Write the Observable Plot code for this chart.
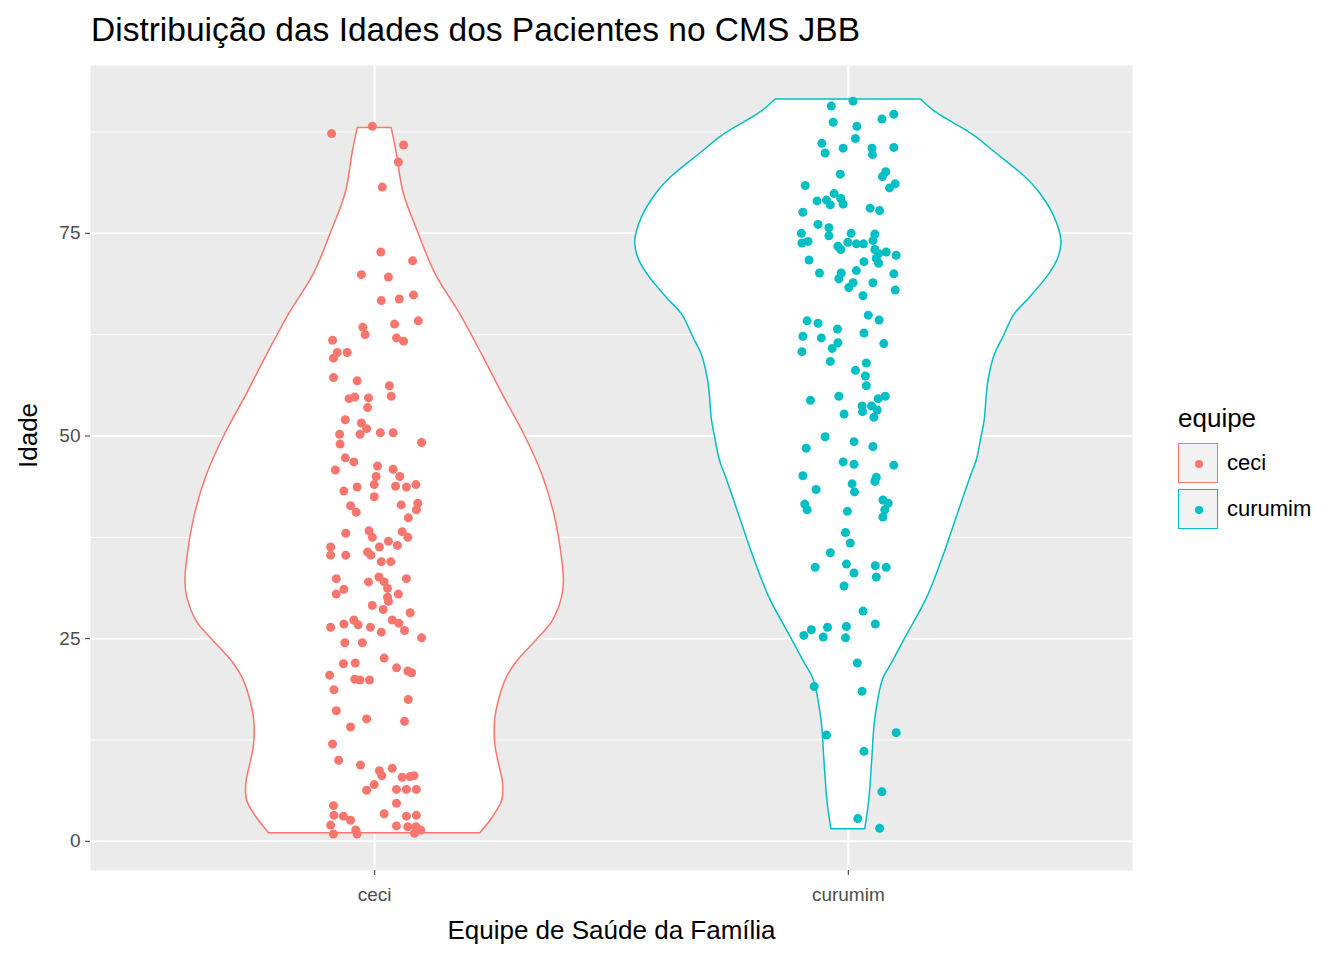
<!DOCTYPE html>
<html>
<head>
<meta charset="utf-8">
<script src="https://cdn.jsdelivr.net/npm/d3@7"></script>
<script src="https://cdn.jsdelivr.net/npm/@observablehq/plot@0.6"></script>
<style>
  body { margin: 0; background: white; font-family: "Liberation Sans", Arial, sans-serif; }
  #wrap { position: relative; width: 1344px; height: 960px; }
  #title { height: 50px; font-size: 33.5px; padding-left: 91px; line-height: 60px; color: #000; }
  #legend { position: absolute; left: 1178px; top: 403px; }
  .lt { font-size: 26px; margin-bottom: 6px; }
  .key { display: flex; align-items: center; height: 46px; font-size: 22px; }
  .box { width: 40px; height: 40px; background: #F2F2F2; box-sizing: border-box; border: 1.5px solid; position: relative; margin-right: 9px; }
  .box span { position: absolute; left: 16px; top: 16px; width: 8px; height: 8px; border-radius: 50%; }
</style>
</head>
<body>
<div id="wrap">
  <div id="title">Distribuição das Idades dos Pacientes no CMS JBB</div>
  <div id="chart"></div>
  <div id="legend">
    <div class="lt">equipe</div>
    <div class="key"><div class="box" style="border-color:#F8766D"><span style="background:#F8766D"></span></div>ceci</div>
    <div class="key"><div class="box" style="border-color:#00BFC4"><span style="background:#00BFC4"></span></div>curumim</div>
  </div>
</div>
<script>
const equipes = ["ceci", "curumim"];
const cores = ["#F8766D", "#00BFC4"];

// violin outline: age and relative density width
const violinCeciAge = [1, 3, 5, 7, 10, 12, 15, 17, 20, 22, 25, 27, 30, 32, 35, 40, 45, 50, 55, 60, 65, 70, 75, 80, 85, 88];
const violinCeciDens = [106, 119, 128, 129, 124, 121, 121, 124, 132, 142, 164, 178, 188, 190, 188, 181, 169, 151, 129, 108, 86, 61, 44, 29, 22, 17];
const violinCurAge = [1.5, 5, 10, 15, 20, 22, 25, 30, 35, 40, 45, 47, 50, 52, 55, 57, 60, 62, 65, 67, 70, 72, 74, 77, 80, 82, 85, 87, 90, 91.5];
const violinCurDens = [17, 21, 24, 27, 35, 44, 57, 79, 95, 109, 123, 129, 134, 137, 139, 141, 147, 155, 167, 182, 202, 211, 214, 207, 192, 177, 147, 127, 87, 73];

// jittered observations: age and horizontal jitter
const ceciIdade = [87.3,88.2,85.9,83.8,80.7,72.7,71.6,69.9,69.6,66.7,66.9,67.4,64.2,63.4,62.5,63.8,62.1,61.7,61.8,60.3,60.3,59.6,57.2,56.8,56.2,54.9,54.6,54.8,54.7,53.5,52.0,51.6,50.9,50.2,50.2,49.0,50.4,50.4,49.2,47.3,46.8,45.8,46.3,45.0,45.9,45.0,
43.7,43.2,44.0,43.8,43.7,44.0,42.5,41.4,40.6,41.5,41.7,40.9,39.9,38.0,38.3,37.5,38.2,37.5,37.0,36.3,36.5,36.3,35.3,35.3,35.7,35.3,34.5,34.5,32.4,32.0,32.6,32.4,31.1,30.5,32.0,31.2,30.5,30.1,29.6,29.1,28.6,28.2,26.4,26.8,27.3,26.7,26.4,25.8,27.3,26.9,26.0,25.1,24.5,24.5,22.6,21.9,22.0,21.4,21.0,20.8,20.5,20.0,19.9,19.9,18.7,17.5,16.1,15.1,14.8,14.1,12.0,10.0,9.4,8.7,8.1,9.0,7.9,8.0,8.1,7.0,6.3,6.4,6.4,6.4,4.7,4.4,3.2,3.1,2.6,3.4,3.1,3.2,2.0,1.4,1.9,1.8,1.8,1.4,0.9,0.9,1.0];
const ceciJit = [-0.091,-0.005,0.061,0.050,0.016,0.013,0.080,-0.028,0.029,0.014,0.052,0.082,0.092,-0.025,-0.020,0.042,0.046,0.061,-0.089,-0.079,-0.058,-0.087,-0.087,-0.037,0.031,0.035,-0.054,-0.042,-0.013,-0.015,-0.062,-0.028,-0.017,-0.031,-0.074,-0.073,0.012,0.039,0.099,-0.062,-0.044,-0.083,0.006,0.003,0.039,0.053,
-0.037,-0.065,-0.001,0.044,0.067,0.087,-0.001,-0.051,-0.039,0.056,0.091,0.088,0.071,-0.061,-0.012,-0.005,0.058,0.070,0.029,0.010,0.048,-0.093,-0.093,-0.061,-0.015,-0.008,0.014,0.034,-0.081,-0.013,0.009,0.067,-0.065,-0.081,0.020,0.027,0.050,0.027,0.029,-0.005,0.018,0.075,-0.093,-0.065,-0.044,-0.035,-0.009,0.014,0.037,0.051,0.063,0.099,-0.063,-0.026,0.020,-0.066,-0.041,0.046,0.070,0.078,-0.095,-0.042,-0.031,-0.011,-0.086,0.071,-0.081,-0.017,0.063,-0.051,-0.089,-0.076,-0.030,0.010,0.015,0.037,0.058,0.075,0.083,-0.001,-0.017,0.046,0.067,0.088,0.046,-0.087,-0.086,-0.066,-0.051,0.020,0.067,0.088,-0.093,-0.040,0.046,0.070,0.087,0.097,-0.087,-0.037,0.084];
const curIdade = [91.3,90.7,89.7,89.1,88.7,88.2,86.7,86.1,85.5,85.5,84.7,85.6,84.9,82.3,82.6,82.0,80.9,81.1,80.6,79.9,79.3,78.6,79.0,79.1,78.5,78.1,77.8,77.6,76.1,75.7,74.7,75.0,73.8,74.0,75.0,73.9,73.7,73.7,74.9,74.1,73.4,73.0,73.0,72.5,72.7,72.3,71.9,71.3,71.5,71.7,70.4,70.1,70.1,69.4,70.0,68.9,68.9,68.3,68.0,67.3,64.9,64.3,64.2,63.9,63.2,62.7,62.3,62.1,61.5,60.8,60.4,61.4,59.2,59.0,58.1,57.4,56.2,54.4,54.9,54.9,54.6,53.7,53.7,53.2,53.0,52.3,52.7,49.9,49.3,48.7,48.5,
46.8,46.5,46.4,45.1,44.1,43.1,44.9,44.4,43.4,42.1,41.7,40.9,40.0,41.6,40.9,40.7,38.1,36.8,35.6,33.8,34.2,33.1,34.0,33.8,32.6,31.5,28.4,26.8,26.1,25.4,26.4,25.2,26.5,25.1,22.0,19.1,18.5,13.1,13.4,11.1,6.1,2.8,1.6];
const curJit = [0.010,-0.036,0.096,0.071,-0.032,0.018,0.015,-0.056,-0.011,0.050,0.051,0.096,-0.049,-0.017,0.079,0.072,-0.091,0.099,0.087,-0.030,-0.016,-0.011,-0.066,-0.046,-0.038,0.046,0.066,-0.096,-0.064,-0.041,-0.041,-0.099,-0.098,-0.085,0.006,-0.001,0.017,0.032,0.056,0.052,-0.022,-0.016,0.056,0.064,0.080,0.101,0.059,0.064,0.033,-0.083,0.017,-0.061,-0.015,-0.020,0.096,0.052,0.010,0.001,0.099,0.031,0.042,0.065,-0.087,-0.064,-0.023,0.033,-0.096,-0.057,-0.022,-0.034,-0.098,0.075,-0.038,0.038,0.015,0.036,0.038,-0.080,-0.020,0.078,0.063,0.029,0.049,0.061,0.030,0.054,-0.009,-0.049,0.012,0.052,-0.089,
-0.011,0.012,0.096,-0.096,0.008,0.013,0.059,0.056,-0.068,0.073,0.084,0.077,0.073,-0.092,-0.087,-0.002,-0.006,0.004,-0.038,-0.070,-0.004,0.012,0.057,0.080,0.059,-0.009,0.031,0.057,-0.078,-0.094,-0.044,-0.053,-0.004,-0.006,0.019,-0.072,0.029,-0.046,0.101,0.033,0.071,0.020,0.066];

const yMajor = [0, 25, 50, 75];
const yMinor = [12.5, 37.5, 62.5, 87.5];

const maxDens = d3.max([...violinCeciDens, ...violinCurDens]);
const violin = [];
violinCeciAge.forEach((a, i) => violin.push({equipe: "ceci", pos: 1, idade: a, w: violinCeciDens[i] / maxDens * 0.45}));
violinCurAge.forEach((a, i) => violin.push({equipe: "curumim", pos: 2, idade: a, w: violinCurDens[i] / maxDens * 0.45}));

const pontos = [];
ceciIdade.forEach((a, i) => pontos.push({equipe: "ceci", x: 1 + ceciJit[i], idade: a}));
curIdade.forEach((a, i) => pontos.push({equipe: "curumim", x: 2 + curJit[i], idade: a}));

const chart = Plot.plot({
  width: 1344,
  height: 910,
  marginTop: 15,
  marginBottom: 90,
  marginLeft: 90,
  marginRight: 212,
  style: {fontFamily: "Liberation Sans, Arial, sans-serif", background: "white"},
  x: {domain: [0.4, 2.6], axis: null},
  y: {domain: [-3.6, 95.7], axis: null},
  color: {domain: equipes, range: cores},
  marks: [
    Plot.frame({fill: "#EBEBEB", stroke: null}),
    Plot.ruleY(yMinor, {stroke: "white", strokeWidth: 1}),
    Plot.ruleY(yMajor, {stroke: "white", strokeWidth: 2}),
    Plot.ruleX([1, 2], {stroke: "white", strokeWidth: 2}),
    Plot.areaX(violin, {y: "idade", x1: d => d.pos - d.w, x2: d => d.pos + d.w, z: "equipe",
      fill: "white", stroke: "equipe", strokeWidth: 1.5, curve: "catmull-rom"}),
    Plot.dot(pontos, {x: "x", y: "idade", fill: "equipe", r: 4.5}),
    Plot.axisY(yMajor, {tickSize: 5, tickPadding: 5, fontSize: 19, color: "#4D4D4D", stroke: "#333", label: null}),
    Plot.axisX([1, 2], {tickFormat: d => equipes[d - 1], tickSize: 5, tickPadding: 12, fontSize: 19, color: "#4D4D4D", stroke: "#333", label: null}),
    Plot.text(["Equipe de Saúde da Família"], {frameAnchor: "bottom", dy: 68, fontSize: 26, fill: "black"}),
    Plot.text(["Idade"], {frameAnchor: "left", dx: -62, rotate: -90, fontSize: 26, fill: "black"})
  ]
});
d3.select("#chart").append(() => chart);
</script>
</body>
</html>
